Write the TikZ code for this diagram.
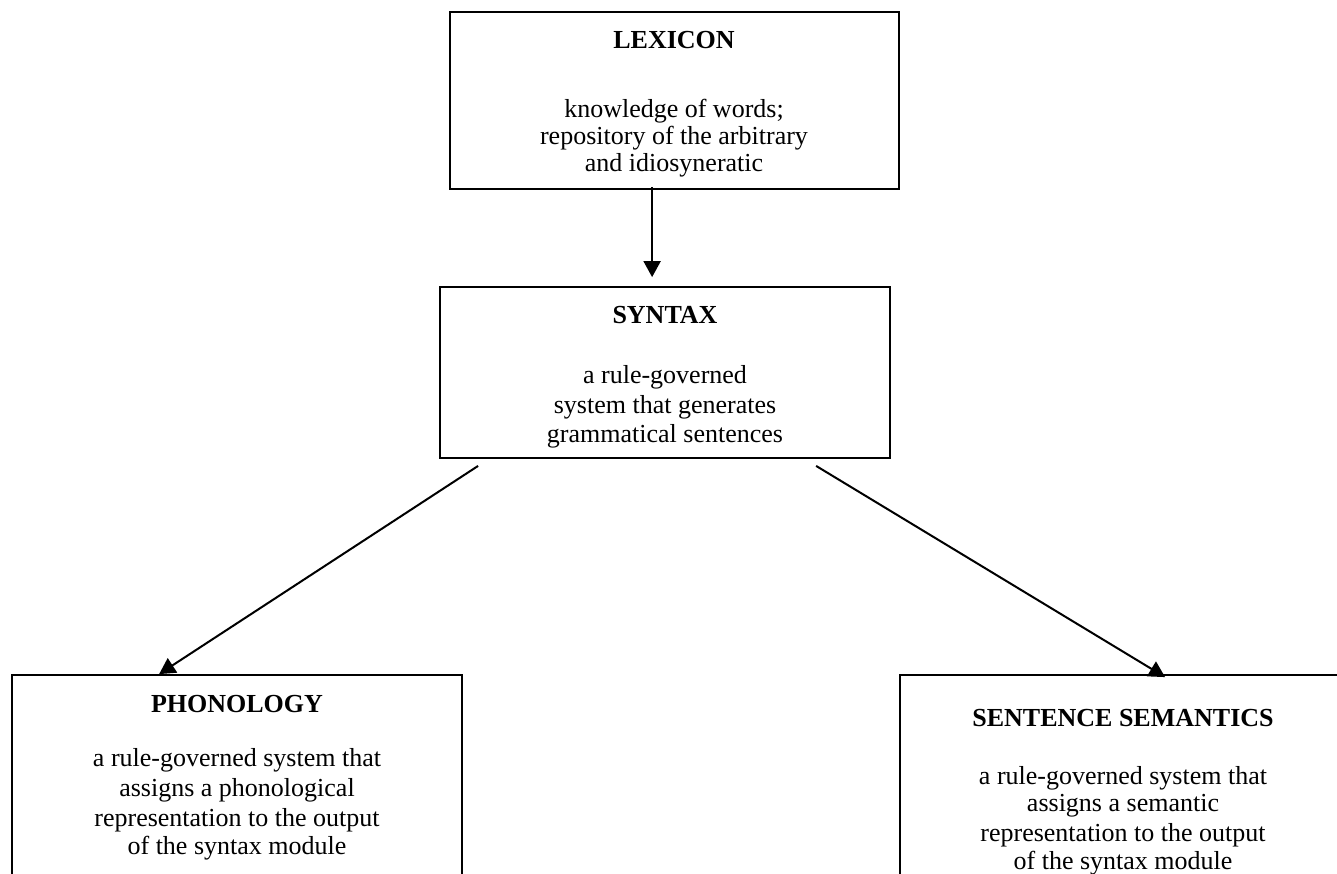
\documentclass[tikz,border=0pt]{standalone}
\usepackage{fontspec}
\setmainfont{Liberation Serif}
\usetikzlibrary{arrows.meta,calc}
\begin{document}
\begin{tikzpicture}[x=0.5pt,y=-0.5pt,
  box/.style={draw=black,line width=0.9pt,inner sep=0pt,rectangle},
  txt/.style={anchor=base,inner sep=0pt,font=\fontsize{13pt}{15pt}\selectfont},
  hdr/.style={txt,font=\fontsize{13pt}{15pt}\selectfont\bfseries},
  arr/.style={line width=1pt,-{Triangle[width=8.5pt,length=8pt]}}]
\useasboundingbox (0,0) rectangle (1337,873);
\clip (0,0) rectangle (1337,873);
\fill[white] (0,0) rectangle (1337,873);
% boxes
\node[box,minimum width=224.5pt,minimum height=88.5pt] (lex) at (674.5,100.5) {};
\node[box,minimum width=225pt,minimum height=85.5pt] (syn) at (665,372.5) {};
\node[box,minimum width=225pt,minimum height=112.5pt] (phon) at (237,787.5) {};
\node[box,minimum width=223pt,minimum height=112.5pt] (sem) at (1123,787.5) {};
% lexicon text
\node[hdr] (lexH) at (674,48) {LEXICON};
\node[txt] (lex1) at (674,117) {knowledge of words;};
\node[txt] (lex2) at (674,144) {repository of the arbitrary};
\node[txt] (lex3) at (674,171) {and idiosyneratic};
% syntax text
\node[hdr] (synH) at (665,323) {SYNTAX};
\node[txt] (syn1) at (665,383) {a rule-governed};
\node[txt] (syn2) at (665,413) {system that generates};
\node[txt] (syn3) at (665,442) {grammatical sentences};
% phonology text
\node[hdr] (phonH) at (237,712) {PHONOLOGY};
\node[txt] (phon1) at (237,766) {a rule-governed system that};
\node[txt] (phon2) at (237,796) {assigns a phonological};
\node[txt] (phon3) at (237,826) {representation to the output};
\node[txt] (phon4) at (237,854) {of the syntax module};
% semantics text
\node[hdr] (semH) at (1123,726) {SENTENCE SEMANTICS};
\node[txt] (sem1) at (1123,784) {a rule-governed system that};
\node[txt] (sem2) at (1123,811) {assigns a semantic};
\node[txt] (sem3) at (1123,841) {representation to the output};
\node[txt] (sem4) at (1123,869) {of the syntax module};
% connectors
\draw[arr] ($(lex.south west)+(203,-3)$) -- ($(syn.north west)+(213,-9)$);
\draw[arr] ($(syn.south west)+(39,7)$) -- ($(phon.north west)+(148,0)$);
\draw[arr] ($(syn.south west)+(377,7)$) -- ($(sem.north west)+(266,3)$);
\end{tikzpicture}
\end{document}
